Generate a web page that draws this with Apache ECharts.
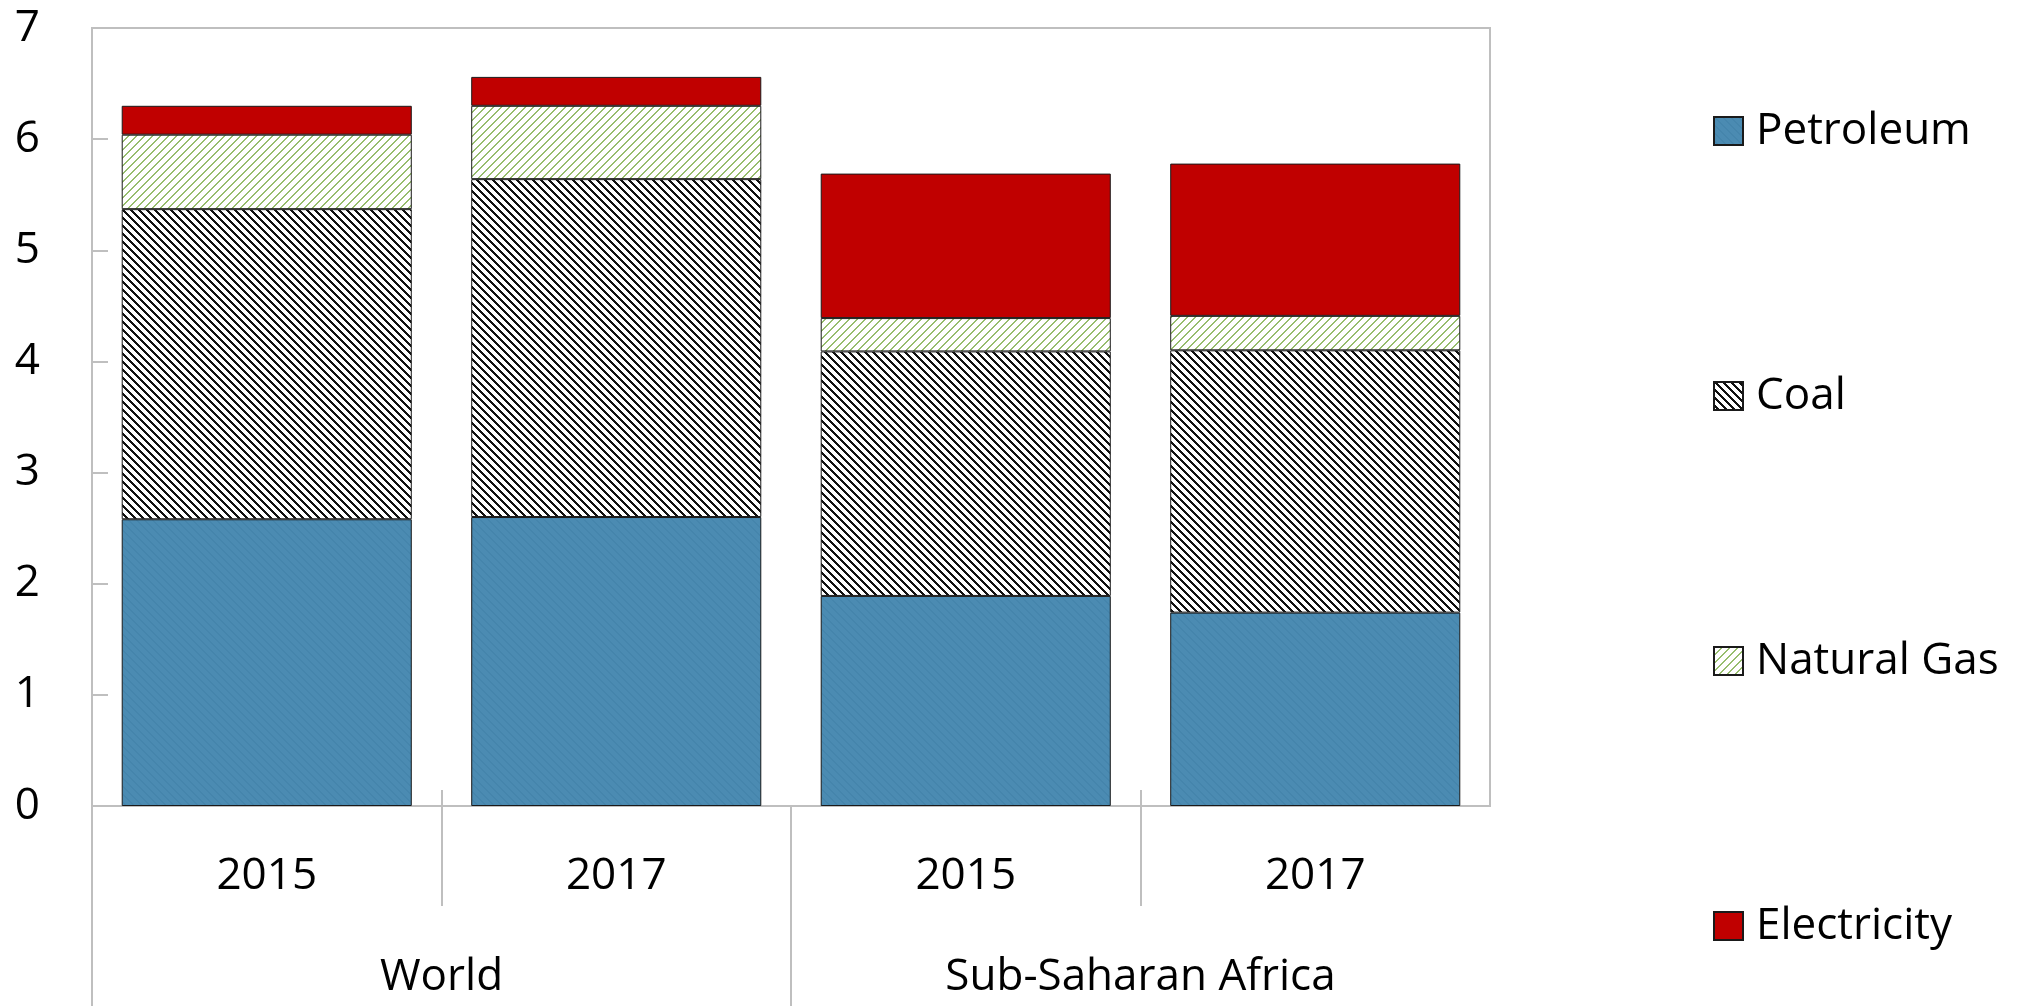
<!DOCTYPE html>
<html>
<head>
    <meta charset="utf-8">
    <style>
        html, body { margin: 0; padding: 0; background: #fff; }
        #main { width: 2023px; height: 1006px; }
    </style>
    <script src="https://cdn.jsdelivr.net/npm/echarts@6/dist/echarts.min.js"></script>
</head>
<body>
    <div id="main"></div>
    <script type="text/javascript">
        // data
        var years = ['2015', '2017', '2015', '2017'];
        var regions = ['World', 'Sub-Saharan Africa'];
        var petroleum = [2.58, 2.60, 1.89, 1.74];
        var coal = [2.79, 3.04, 2.20, 2.36];
        var naturalGas = [0.67, 0.66, 0.30, 0.31];
        var electricity = [0.26, 0.26, 1.30, 1.37];

        // boundaries between the four bars, used only for separator ticks
        var bounds = [];
        for (var i = 0; i <= years.length; i++) bounds.push('');

        // 8x8 hatch tiles, dir 1 = '\' , dir -1 = '/'
        function hatch(bg, fg, dir, w) {
            var c = document.createElement('canvas');
            c.width = 8; c.height = 8;
            var g = c.getContext('2d');
            g.fillStyle = bg;
            g.fillRect(0, 0, 8, 8);
            g.fillStyle = fg;
            for (var r = 0; r < 8; r++) {
                var x = dir > 0 ? r : 7 - r;
                for (var k = 0; k < w; k++) g.fillRect((x + k) % 8, r, 1, 1);
            }
            return { image: c, repeat: 'repeat' };
        }

        var font = '"Open Sans", "Noto Sans", sans-serif';
        var gray = '#bfbfbf';

        var myChart = echarts.init(document.getElementById('main'));

        function barSeries(name, data, color) {
            return {
                name: name,
                type: 'bar',
                stack: 'total',
                barCategoryGap: '17%',
                xAxisIndex: 0,
                yAxisIndex: 0,
                data: data,
                itemStyle: { color: color, borderColor: '#1a1a1a', borderWidth: 1 },
                emphasis: { disabled: true }
            };
        }

        var option = {
            backgroundColor: '#fff',
            animation: false,
            textStyle: { fontFamily: font, color: '#000' },
            grid: {
                left: 92, right: 533, top: 28, bottom: 200,
                show: true, borderColor: gray, borderWidth: 2
            },
            legend: {
                orient: 'vertical',
                left: 1708,
                top: 104,
                itemGap: 221,
                itemWidth: 29,
                itemHeight: 28,
                icon: 'rect',
                selectedMode: false,
                textStyle: { fontSize: 44, fontFamily: font, color: '#000', padding: [0, 0, 0, 8] },
                data: ['Petroleum', 'Coal', 'Natural Gas', 'Electricity']
            },
            xAxis: [{
                type: 'category',
                position: 'bottom',
                data: years,
                axisLine: { show: true, lineStyle: { color: gray, width: 2 } },
                axisTick: { show: false },
                axisLabel: { fontSize: 44, fontFamily: font, color: '#000', margin: 48, interval: 0 }
            }, {
                type: 'category',
                position: 'bottom',
                data: regions,
                axisLine: { show: false },
                axisTick: { show: false },
                axisLabel: { fontSize: 44, fontFamily: font, color: '#000', margin: 149, interval: 0 }
            }, {
                // year separators, crossing the axis line
                type: 'category',
                position: 'bottom',
                offset: -16,
                boundaryGap: false,
                data: bounds,
                axisLine: { show: false },
                axisLabel: { show: false },
                axisTick: {
                    show: true, length: 116,
                    interval: function (idx) { return idx % 2 === 1; },
                    lineStyle: { color: gray, width: 2 }
                }
            }, {
                // region separators
                type: 'category',
                position: 'bottom',
                boundaryGap: false,
                data: bounds,
                axisLine: { show: false },
                axisLabel: { show: false },
                axisTick: {
                    show: true, length: 200,
                    interval: function (idx) { return idx % 2 === 0 && idx < bounds.length - 1; },
                    lineStyle: { color: gray, width: 2 }
                }
            }],
            yAxis: {
                type: 'value',
                min: 0,
                max: 7,
                interval: 1,
                splitLine: { show: false },
                axisLine: { show: true, lineStyle: { color: gray, width: 2 } },
                axisTick: { show: true, inside: true, length: 16, lineStyle: { color: gray, width: 2 } },
                axisLabel: { fontSize: 44, fontFamily: font, color: '#000', margin: 52 }
            },
            series: [
                barSeries('Petroleum', petroleum, hatch('#4b8bb2', '#4585ac', 1, 2)),
                barSeries('Coal', coal, hatch('#ffffff', '#111111', 1, 3)),
                barSeries('Natural Gas', naturalGas, hatch('#ffffff', '#97bd6e', -1, 2)),
                barSeries('Electricity', electricity, '#c00000')
            ]
        };

        myChart.setOption(option);
    </script>
</body>
</html>
